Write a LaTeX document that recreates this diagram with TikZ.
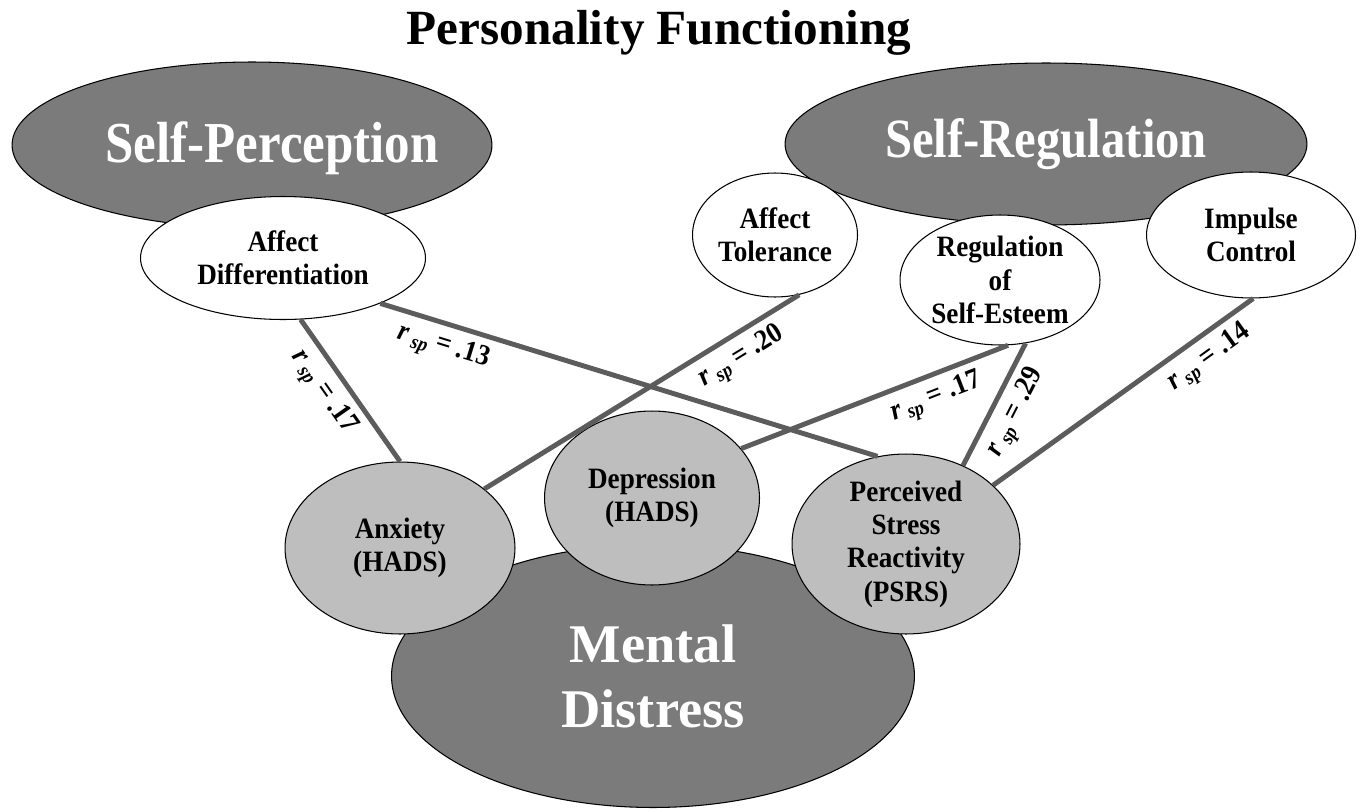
\documentclass[tikz,border=0pt]{standalone}
\usepackage{fontspec}
\setmainfont{Liberation Serif}
\newfontfamily\narrowserif{Liberation Serif}[FakeStretch=0.88]
\newfontfamily\labelserif{Liberation Serif}[FakeStretch=0.92]
\usetikzlibrary{shapes.geometric}
\definecolor{factorfill}{HTML}{7B7B7B}
\definecolor{outcomefill}{HTML}{BEBEBE}
\definecolor{linkgray}{HTML}{5C5C5C}
\tikzset{factorbox/.style={ellipse, draw=black, line width=0.6pt, fill=factorfill, inner sep=0pt},
factortext/.style={text=white, font=\narrowserif\bfseries\fontsize{33}{38}\selectfont},
facet/.style={ellipse, draw=black, line width=0.6pt, fill=white, inner sep=0pt, align=center,
  font=\labelserif\bfseries\fontsize{16.8}{19}\selectfont},
outcome/.style={facet, fill=outcomefill},
link/.style={draw=linkgray, line width=2.8pt},
coef/.style={sloped, below, inner sep=4pt, font=\labelserif\bfseries\fontsize{16.5}{18}\selectfont}
}
\newcommand{\rsp}[1]{\textit{r}\,\textsubscript{\textit{sp}} = #1}

\begin{document}
\begin{tikzpicture}[x=0.02cm, y=-0.02cm]
\useasboundingbox (0,0) rectangle (1361,811);
\node[font=\bfseries\fontsize{28}{32}\selectfont] (title) at (659,33) {Personality Functioning};
% personality functioning domains
\node[factorbox, minimum width=9.6cm, minimum height=3.32cm] (sp) at (252,145) {};
\node[factortext] (sptext) at (272,148) {Self-Perception};
\node[factorbox, factortext, font=\narrowserif\bfseries\fontsize{31.5}{36}\selectfont,
  minimum width=10.44cm, minimum height=3.24cm] (sr) at (1046,144) {Self-Regulation};
\node[facet, minimum width=5.7cm, minimum height=2.46cm] (ad) at (283,258) {Affect\\Differentiation};
\node[facet, minimum width=3.3cm, minimum height=2.48cm] (at) at (775,235) {Affect\\Tolerance};
\node[facet, minimum width=4.0cm, minimum height=2.6cm] (rse) at (1000,280) {Regulation\\of\\Self-Esteem};
\node[facet, minimum width=4.18cm, minimum height=2.52cm] (ic) at (1251,235) {Impulse\\Control};
% mental distress
\node[factorbox, factortext, align=center, minimum width=10.46cm, minimum height=5.26cm,
  font=\bfseries\fontsize{31}{37}\selectfont] (md) at (653,676) {Mental\\Distress};
\node[outcome, minimum width=4.6cm, minimum height=3.44cm] (anx) at (400,548) {Anxiety\\(HADS)};
\node[outcome, minimum width=4.3cm, minimum height=3.48cm] (dep) at (652,498) {Depression\\(HADS)};
\node[outcome, minimum width=4.56cm, minimum height=3.6cm] (psrs) at (906,544) {Perceived\\Stress\\Reactivity\\(PSRS)};
% semi-partial correlations
\draw[link] (ad.286) -- node[coef, pos=0.42] {\rsp{.17}} (anx.90);
\draw[link] (ad.335) -- node[coef, pos=0.14] {\rsp{.13}} (psrs.108);
\draw[link] (at.292) -- node[coef, pos=0.22] {\rsp{.20}} (anx.35);
\draw[link] (rse.277) -- node[coef, pos=0.3] {\rsp{.17}} (dep.29);
\draw[link] (rse.292) -- node[coef, pos=0.48] {\rsp{.29}} (psrs.54);
\draw[link] (ic.272) -- node[coef, pos=0.22] {\rsp{.14}} (psrs.34);
\end{tikzpicture}
\end{document}
